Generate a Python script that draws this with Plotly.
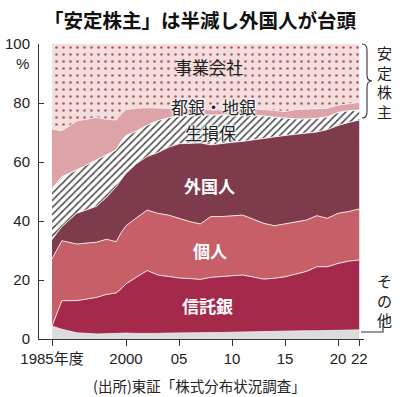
import plotly.graph_objects as go

# ---- data (shares in %) ----
years = [1985, 1987, 1990, 1994, 1996, 1998, 1999,
         2000, 2001, 2002, 2003, 2004, 2005, 2006, 2007, 2008, 2009, 2010,
         2011, 2012, 2013, 2014, 2015, 2016, 2017, 2018, 2019, 2020, 2021, 2022]
other = [4.4, 3.3, 2.1, 1.7, 1.8, 1.9, 2.0,
         2.0, 1.9, 1.8, 1.9, 2.0, 2.0, 2.1, 2.0, 2.1, 2.2, 2.3,
         2.4, 2.4, 2.5, 2.5, 2.6, 2.7, 2.8, 2.8, 2.9, 3.0, 3.1, 3.1]
trust = [0.0, 9.7, 10.9, 12.4, 13.3, 13.7, 15.0,
         16.7, 19.1, 21.4, 19.8, 19.1, 18.7, 18.4, 18.2, 18.8, 19.0, 19.2,
         19.3, 18.6, 17.8, 18.1, 18.5, 19.3, 20.1, 21.7, 21.6, 22.6, 23.3, 23.7]
indiv = [22.8, 20.3, 19.2, 18.7, 18.7, 17.4, 19.0,
         19.7, 20.1, 20.5, 20.9, 20.9, 20.2, 19.3, 18.8, 20.6, 20.3, 20.3,
         20.3, 19.6, 18.9, 17.8, 17.9, 17.8, 17.4, 17.3, 16.4, 17.0, 16.8, 17.3]
foreign = [6.5, 4.8, 10.4, 12.2, 14.2, 18.6, 18.0,
           17.8, 18.4, 18.2, 20.6, 23.0, 25.3, 26.5, 27.5, 24.3, 24.8, 24.9,
           25.0, 26.9, 29.0, 30.3, 30.0, 29.6, 29.5, 28.4, 30.1, 29.8, 30.2, 30.1]
insur = [17.3, 16.9, 14.7, 15.7, 14.4, 12.5, 13.0,
         12.8, 11.0, 10.6, 10.8, 10.0, 9.4, 9.6, 9.5, 10.1, 9.7, 9.3,
         8.9, 8.3, 7.4, 6.5, 5.8, 5.2, 4.8, 4.6, 4.3, 4.4, 4.0, 3.4]
banks = [20.2, 15.6, 16.6, 14.4, 12.1, 10.1, 9.3,
         8.8, 7.7, 5.9, 4.3, 3.2, 2.4, 1.9, 1.7, 1.7, 1.6, 1.8,
         2.1, 2.2, 2.2, 2.3, 2.3, 3.2, 3.4, 3.2, 2.9, 2.5, 2.4, 2.6]
corp = [28.8, 29.4, 26.1, 24.9, 25.5, 25.8, 23.7,
        22.2, 21.8, 21.6, 21.7, 21.8, 22.0, 22.2, 22.3, 22.4, 22.4, 22.2,
        22.0, 22.0, 22.2, 22.5, 22.9, 22.2, 22.0, 22.0, 21.8, 20.7, 20.2, 19.8]

tick_years = [1985, 2000, 2005, 2010, 2015, 2020, 2022]
tick_text = ["1985年度", "2000", "05", "10", "15", "20", "22"]
y_ticks = [0, 20, 40, 60, 80, 100]
y_text = ["0", "20", "40", "60", "80", "100"]

# the axis is compressed before 2000 (broken scale)
COMPRESS = 0.4654


def xpos(year):
    return year if year >= 2000 else 2000 - (2000 - year) * COMPRESS


xs = [xpos(y) for y in years]

# ---- layout geometry (pixels) ----
W, H = 403, 397
L, R, T, B = 39, 39, 44, 58
PW, PH = W - L - R, H - T - B


def px(x):
    return (x - L) / PW


def py(y):
    return (H - B - y) / PH


CJK = "Noto Sans CJK JP, Noto Sans CJK SC, sans-serif"
NUM = "Liberation Sans Narrow, Arial Narrow, Liberation Sans, Noto Sans CJK JP, sans-serif"
EDGE = "rgba(250,232,232,0.95)"

fig = go.Figure()

series = [
    ("その他", other, dict(fillcolor="#dcdcdc"), dict(width=0.8, color="#eeeeee")),
    ("信託銀", trust, dict(fillcolor="#a5294a"), dict(width=1, color=EDGE)),
    ("個人", indiv, dict(fillcolor="#c75f69"), dict(width=1, color=EDGE)),
    ("外国人", foreign, dict(fillcolor="#7e3b4c"), dict(width=1, color=EDGE)),
    ("生損保", insur, dict(fillpattern=dict(shape="/", size=5, solidity=0.3,
                                             fgcolor="#4a4a4a", bgcolor="#ffffff",
                                             fillmode="replace")),
     dict(width=1, color="#ffffff")),
    ("都銀・地銀", banks, dict(fillcolor="#dda3a8"), dict(width=1, color=EDGE)),
    ("事業会社", corp, dict(fillpattern=dict(shape=".", size=7, solidity=0.12,
                                           fgcolor="#b25a6a", bgcolor="#f3dede",
                                           fillmode="replace")),
     dict(width=0, color="rgba(0,0,0,0)")),
]

for name, vals, fillargs, lineargs in series:
    fig.add_trace(go.Scatter(
        x=xs, y=vals, name=name, mode="lines", stackgroup="one",
        line=lineargs, hoverinfo="skip", **fillargs))

anns = []


def ann(text, x, y, size, color="#222", family=CJK, shadow=None, xanchor="center"):
    f = dict(family=family, size=size, color=color)
    if shadow:
        f["shadow"] = shadow
    anns.append(dict(text=text, x=px(x), y=py(y), xref="paper", yref="paper",
                     showarrow=False, xanchor=xanchor, yanchor="middle",
                     borderpad=0, font=f))


HALO = "0 0 2px #fff, 0 0 2px #fff, 0 0 3px #fff, 0 0 3px #fff"

ann("<b>「安定株主」は半減し外国人が台頭</b>", 200, 20, 19.5, "#111")
ann("事業会社", 209, 66, 17, "#222")
ann("都銀・地銀", 213, 106, 17, "#222", shadow=HALO)
ann("生損保", 210, 132, 17, "#222", shadow=HALO)
ann("<b>外国人</b>", 209, 185, 17, "#ffffff")
ann("<b>個人</b>", 210, 250, 17, "#ffffff")
ann("<b>信託銀</b>", 207, 305, 17, "#ffffff")
ann("%", 22, 63, 15, "#222", family=NUM)
ann("(出所)東証「株式分布状況調査」", 199, 385, 14.5, "#222")

# vertical side labels
ann("<br>".join("安定株主"), 385, 82, 15, "#222")
ann("<br>".join("その他"), 385, 300, 15, "#222")


def pth(points, cmds):
    s = ""
    for c, pts in zip(cmds, points):
        s += c + " " + " ".join(f"{px(a):.4f},{py(b):.4f}" for a, b in pts) + " "
    return s.strip()


brace = pth(
    [[(362, 44)], [(367, 44), (367, 50)], [(367, 75)], [(367, 81), (372, 81)],
     [(367, 81), (367, 87)], [(367, 112)], [(367, 118), (362, 118)]],
    ["M", "Q", "L", "Q", "Q", "L", "Q"])
bracket = pth([[(361, 332)], [(383, 332)], [(383, 323)]], ["M", "L", "L"])

shapes = [
    dict(type="path", path=brace, xref="paper", yref="paper",
         line=dict(color="#333", width=1.1)),
    dict(type="path", path=bracket, xref="paper", yref="paper",
         line=dict(color="#333", width=1.1)),
]

fig.update_layout(
    width=W, height=H,
    margin=dict(l=L, r=R, t=T, b=B, pad=0, autoexpand=False),
    paper_bgcolor="white", plot_bgcolor="white",
    showlegend=False,
    annotations=anns, shapes=shapes,
    xaxis=dict(range=[1991.79, 2022.45], tickvals=[xpos(y) for y in tick_years],
               ticktext=tick_text, showline=True, linecolor="#333", linewidth=1,
               ticks="outside", ticklen=6, tickcolor="#333", showgrid=False,
               zeroline=False, tickangle=0, automargin=False,
               tickfont=dict(family=NUM, size=15, color="#222"),
               fixedrange=True),
    yaxis=dict(range=[0, 100], tickvals=y_ticks, ticktext=y_text,
               showline=True, linecolor="#333", linewidth=1,
               ticks="inside", ticklen=5, tickcolor="#333", showgrid=False,
               zeroline=False, automargin=False,
               tickfont=dict(family=NUM, size=15, color="#222"),
               ticklabelstandoff=5, fixedrange=True),
)

fig.write_html(
    "out.html",
    config={"displayModeBar": False},
    post_script="document.body.style.margin='0';document.body.style.overflow='hidden';",
)
